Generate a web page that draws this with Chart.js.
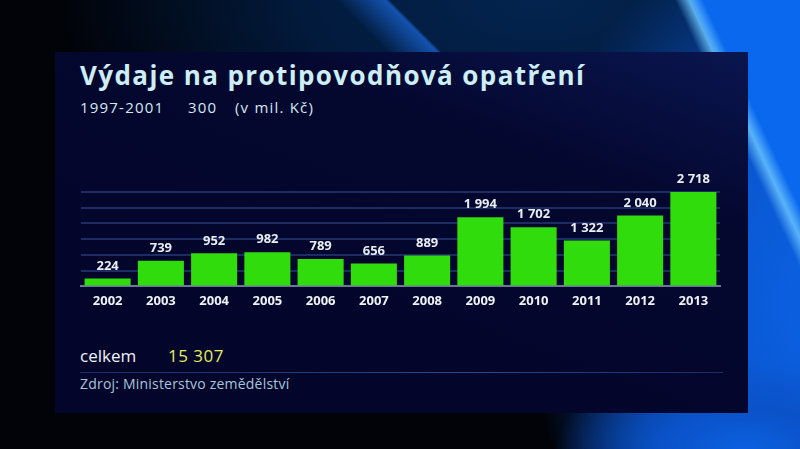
<!DOCTYPE html>
<html>
<head>
<meta charset="utf-8">
<script src="https://cdn.jsdelivr.net/npm/chart.js@4/dist/chart.umd.min.js"></script>
<style>
  html, body { margin:0; padding:0; width:800px; height:449px; overflow:hidden; }
  body {
    position:relative;
    background-color:#010309;
    background-image:
      linear-gradient(65deg, rgba(0,0,0,0) 87.6%, rgba(110,200,255,0.8) 89%, rgba(0,0,0,0) 90.4%),
      linear-gradient(65deg, rgba(0,0,0,0) 88.8%, #0a68ee 89.3%),
      linear-gradient(45deg, rgba(0,0,0,0) 46%, rgba(25,100,210,0.75) 51.8%, rgba(0,0,0,0) 52.3%),
      radial-gradient(ellipse 190px 90px at 745px 449px, #0c5fe0 0%, #0a52c8 45%, rgba(8,60,170,0) 100%),
      radial-gradient(ellipse 300px 400px at 830px 300px, #0c62e4 0%, #0a56d0 45%, rgba(8,60,170,0) 100%),
      radial-gradient(ellipse 480px 220px at 540px 0px, #03244f 0%, #021a3c 50%, rgba(2,16,40,0) 100%);
    background-size: 800px 449px, 800px 449px, 800px 60px, 800px 449px, 800px 449px, 800px 449px;
    background-repeat: no-repeat;
    font-family: "Open Sans", "DejaVu Sans", sans-serif;
  }
  #panel {
    position:absolute; left:55px; top:52px; width:693px; height:361px;
    background: linear-gradient(200deg, #0a1650 0%, #04072e 30%, #03052a 100%);
  }
  canvas#c { position:absolute; left:0; top:0; }
  .txt { position:absolute; white-space:nowrap; }
  #title { left:80px; top:57px; font-size:26px; font-weight:700; color:#cdeef5; letter-spacing:1.4px; }
  #sub { left:80px; top:97px; font-size:15px; font-weight:500; color:#d3e9f0; letter-spacing:1.2px; }
  #sub span { display:inline-block; }
  #celkem { left:80px; top:344px; font-size:17px; font-weight:500; color:#eef2f4; }
  #total { left:168px; top:344px; font-size:17px; font-weight:500; color:#e3ef5e; letter-spacing:0.5px; }
  #sep { position:absolute; left:80px; top:372px; width:643px; height:1px;
         background: linear-gradient(90deg, #1c2d66 0%, #2a4690 60%, #1c2d66 100%); }
  #src { left:80px; top:374px; font-size:14px; color:#a9c5dc; letter-spacing:0.2px; }
</style>
</head>
<body>
<div id="panel"></div>
<div id="sep"></div>
<div class="txt" id="title">Výdaje na protipovodňová opatření</div>
<div class="txt" id="sub"><span style="width:108px">1997-2001</span><span style="width:47px">300</span><span>(v mil. Kč)</span></div>
<div class="txt" id="celkem">celkem</div>
<div class="txt" id="total">15 307</div>
<div class="txt" id="src">Zdroj: Ministerstvo zemědělství</div>
<canvas id="c" width="800" height="449"></canvas>
<script>
const years = ["2002","2003","2004","2005","2006","2007","2008","2009","2010","2011","2012","2013"];
const spending = [224, 739, 952, 982, 789, 656, 889, 1994, 1702, 1322, 2040, 2718];
const axisMax = 2718;
const gridCount = 6;

function fmt(v) { return String(v).replace(/\B(?=(\d{3})+(?!\d))/g, " "); }

const valueLabels = {
  id: "valueLabels",
  afterDatasetsDraw(chart) {
    const ctx = chart.ctx;
    const meta = chart.getDatasetMeta(0);
    ctx.save();
    ctx.font = "700 13px 'Open Sans', sans-serif";
    ctx.fillStyle = "#e9eef2";
    ctx.textAlign = "center";
    ctx.textBaseline = "bottom";
    meta.data.forEach((bar, i) => {
      ctx.fillText(fmt(spending[i]), bar.x, bar.y - 6);
    });
    ctx.restore();
  }
};

new Chart(document.getElementById("c"), {
  type: "bar",
  data: {
    labels: years,
    datasets: [{
      data: spending,
      backgroundColor: "#30dc0c",
      borderWidth: 0,
      barPercentage: 0.865,
      categoryPercentage: 1.0
    }]
  },
  options: {
    responsive: false,
    animation: false,
    layout: { padding: { left: 81, right: 80, top: 192, bottom: 133 } },
    plugins: { legend: { display: false }, tooltip: { enabled: false } },
    scales: {
      x: {
        grid: { display: false, drawTicks: false },
        border: { display: true, color: "#6a7898", width: 2 },
        ticks: { color: "#eef2f4", font: { family: "'Open Sans', sans-serif", size: 13, weight: "700" }, padding: 7 }
      },
      y: {
        min: 0, max: axisMax,
        display: true,
        ticks: { display: false, stepSize: axisMax / gridCount },
        grid: { color: "#1d2c62", lineWidth: 2, drawTicks: false },
        border: { display: false }
      }
    }
  },
  plugins: [valueLabels]
});
</script>
</body>
</html>
